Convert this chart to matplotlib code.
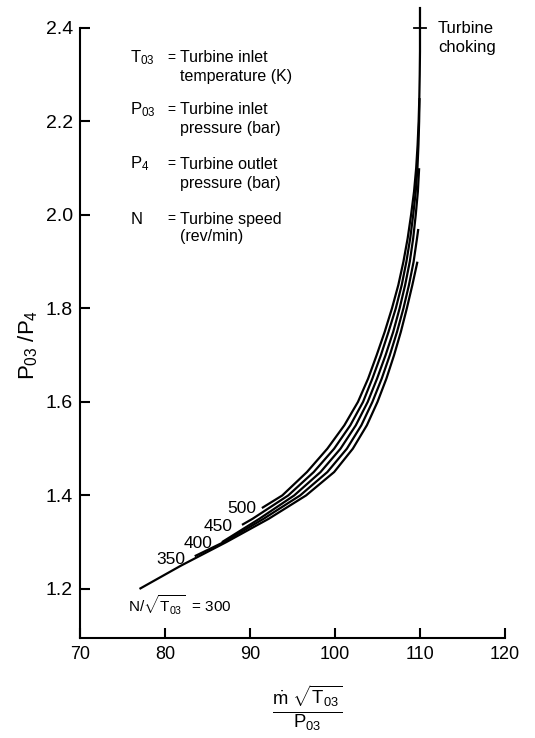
import matplotlib
matplotlib.use("Agg")
import matplotlib.pyplot as plt

# speed lines N/sqrt(T03)
speeds = [300, 350, 400, 450, 500]

y_300 = [1.20, 1.25, 1.30, 1.35, 1.40, 1.45, 1.50, 1.55, 1.60, 1.65, 1.70, 1.75, 1.80, 1.85, 1.90]
x_300 = [77.0, 81.9, 87.2, 92.2, 96.6, 99.9, 102.1, 103.75, 105.0, 106.05, 106.95, 107.75, 108.45, 109.1, 109.7]

y_350 = [1.27, 1.30, 1.35, 1.40, 1.45, 1.50, 1.55, 1.60, 1.65, 1.70, 1.75, 1.80, 1.85, 1.90, 1.95, 1.97]
x_350 = [83.5, 86.9, 91.6, 95.9, 99.1, 101.4, 103.1, 104.4, 105.5, 106.45, 107.3, 108.05, 108.7, 109.25, 109.65, 109.8]

y_400 = [1.30, 1.35, 1.40, 1.45, 1.50, 1.55, 1.60, 1.65, 1.70, 1.75, 1.80, 1.85, 1.90, 1.95, 2.00, 2.05, 2.10]
x_400 = [86.7, 91.1, 95.2, 98.3, 100.65, 102.45, 103.85, 104.95, 105.95, 106.85, 107.6, 108.25, 108.8, 109.2, 109.5, 109.75, 109.9]

y_450 = [1.337, 1.35, 1.40, 1.45, 1.50, 1.55, 1.60, 1.65, 1.70, 1.75, 1.80, 1.85, 1.90, 1.95, 2.00, 2.05, 2.10, 2.15, 2.20, 2.25]
x_450 = [89.06, 90.3, 94.5, 97.5, 99.9, 101.8, 103.3, 104.4, 105.4, 106.3, 107.15, 107.85, 108.4, 108.85, 109.2, 109.5, 109.7, 109.82, 109.9, 109.95]

y_500 = [1.373, 1.40, 1.45, 1.50, 1.55, 1.60, 1.65, 1.70, 1.75, 1.80, 1.85, 1.90, 1.95, 2.00, 2.05, 2.10,
         2.15, 2.20, 2.25, 2.30, 2.35, 2.40, 2.445]
x_500 = [91.4, 93.8, 96.7, 99.1, 101.1, 102.7, 103.9, 104.9, 105.85, 106.7, 107.45, 108.05, 108.55, 108.95, 109.3, 109.55,
         109.72, 109.84, 109.92, 109.97, 110.0, 110.0, 110.0]

xs = [x_300, x_350, x_400, x_450, x_500]
ys = [y_300, y_350, y_400, y_450, y_500]

choke_x = 110.0
choke_y = 2.4

x_ticks = [70, 80, 90, 100, 110, 120]
y_ticks = [1.2, 1.4, 1.6, 1.8, 2.0, 2.2, 2.4]

plt.rcParams['font.family'] = ['Liberation Sans', 'DejaVu Sans']
plt.rcParams['mathtext.fontset'] = 'custom'
plt.rcParams['mathtext.rm'] = 'Liberation Sans'
plt.rcParams['mathtext.it'] = 'Liberation Sans'

fig = plt.figure(figsize=(5.35, 7.38), dpi=100)
ax = fig.add_axes([0.1495, 0.1355, 0.7944, 0.8266])

for x, y in zip(xs, ys):
    ax.plot(x, y, color='black', lw=1.6, clip_on=False, solid_capstyle='butt')

# turbine choking mark
ax.plot([choke_x - 0.75, choke_x + 0.75], [choke_y, choke_y], color='black', lw=1.3, clip_on=False)
ax.text(112.1, 2.398, 'Turbine', fontsize=12, va='center', ha='left')
ax.text(112.1, 2.359, 'choking', fontsize=12, va='center', ha='left')

# speed labels
ax.text(90.8, 1.373, '500', fontsize=12.5, ha='right', va='center')
ax.text(88.0, 1.333, '450', fontsize=12.5, ha='right', va='center')
ax.text(85.6, 1.298, '400', fontsize=12.5, ha='right', va='center')
ax.text(82.35, 1.262, '350', fontsize=12.5, ha='right', va='center')
ax.text(75.6, 1.166, r'$N/\sqrt{T_{03}}$  = 300', fontsize=11, ha='left', va='center')

# key
sym_x, eq_x, txt_x = 75.9, 80.3, 81.76
key = [
    (r'$T_{03}$', 'Turbine inlet', 'temperature (K)', 2.336, 2.297),
    (r'$P_{03}$', 'Turbine inlet', 'pressure (bar)', 2.225, 2.186),
    (r'$P_4$', 'Turbine outlet', 'pressure (bar)', 2.109, 2.068),
    ('N', 'Turbine speed', '(rev/min)', 1.991, 1.953),
]
for sym, l1, l2, y1, y2 in key:
    ax.text(sym_x, y1, sym, fontsize=12, ha='left', va='center')
    ax.text(eq_x, y1, '=', fontsize=10, ha='left', va='center')
    ax.text(txt_x, y1, l1, fontsize=11.5, ha='left', va='center')
    ax.text(txt_x, y2, l2, fontsize=11.5, ha='left', va='center')

ax.set_xlim(70, 120)
ax.set_ylim(1.095, 2.4)
ax.set_xticks(x_ticks)
ax.set_yticks(y_ticks)
ax.set_yticklabels(['%.1f' % v for v in y_ticks])
ax.spines['top'].set_visible(False)
ax.spines['right'].set_visible(False)
ax.spines['left'].set_linewidth(1.5)
ax.spines['bottom'].set_linewidth(1.5)
ax.tick_params(direction='in', length=7, width=1.5, labelsize=13)
ax.tick_params(axis='x', pad=6)
ax.tick_params(axis='y', pad=5, labelsize=14)

ax.set_ylabel(r'$P_{03}\ /P_4$', fontsize=16)
ax.yaxis.set_label_coords(-0.095, 0.48)
ax.text(0.534, -0.115, r'$\frac{\dot{m}\ \sqrt{T_{03}}}{P_{03}}$', fontsize=19,
        transform=ax.transAxes, ha='center', va='center')

fig.savefig('out.png', dpi=100)
